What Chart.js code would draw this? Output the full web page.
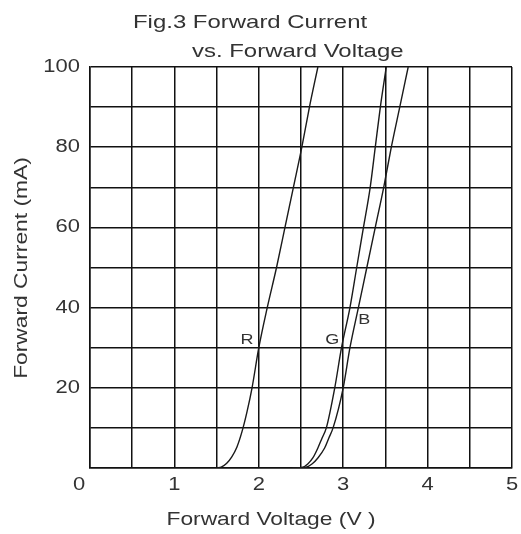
<!DOCTYPE html>
<html><head><meta charset="utf-8">
<script src="https://cdn.jsdelivr.net/npm/chart.js@4/dist/chart.umd.min.js"></script>
<style>html,body{margin:0;padding:0;background:#fff}#wrap{width:521px;height:534px}</style>
</head><body><div id="wrap"><canvas id="c" width="521" height="534"></canvas></div>
<script>
const titleLines = ["Fig.3 Forward Current", "vs. Forward Voltage"];
const xTitle = "Forward Voltage (V )";
const yTitle = "Forward Current (mA)";
const xTickLabels = [0, 1, 2, 3, 4, 5];
const yTickLabels = [20, 40, 60, 80, 100];

const rVoltage = [1.50,1.56,1.62,1.68,1.74,1.80,1.86,1.92,2.00,2.10,2.21,2.31,2.41,2.51,2.60,2.70];
const rCurrent = [0,0.3,1.2,2.8,5.2,9,14,20,30,40,50,60,70,80,90,100];
const gVoltage = [2.40,2.52,2.58,2.64,2.70,2.75,2.80,2.90,2.98,3.08,3.16,3.24,3.32,3.38,3.44,3.51];
const gCurrent = [0,0.2,1,2.5,5,7.5,10,20,30,40,50,60,70,80,90,100];
const bVoltage = [2.45,2.56,2.63,2.70,2.78,2.83,2.88,3.00,3.08,3.18,3.28,3.38,3.48,3.57,3.67,3.77];
const bCurrent = [0,0.2,1,2.5,5,7.5,10,20,30,40,50,60,70,80,90,100];
const curveLabels = [{t:"R", x:1.86, y:32}, {t:"G", x:2.87, y:32}, {t:"B", x:3.25, y:37}];

const pts = (xs, ys) => xs.map((x,i)=>({x, y: ys[i]}));
const mkSet = (name, xs, ys) => ({label:name, data: pts(xs, ys), showLine:true, borderColor:'#1a1a1a', borderWidth:1.4,
  pointRadius:0, cubicInterpolationMode:'monotone', fill:false});

const font = "'Liberation Sans', Arial, sans-serif";
function txt(ctx, s, x, y, align, size, sx, baseline){
  ctx.save();
  ctx.translate(x, y);
  ctx.scale(sx, 1);
  ctx.font = size + "px " + font;
  ctx.textAlign = align;
  ctx.textBaseline = baseline || 'alphabetic';
  ctx.fillText(s, 0, 0);
  ctx.restore();
}
const textPlugin = {
  id:'texts',
  afterDraw(chart){
    const ctx = chart.ctx, xs = chart.scales.x, ys = chart.scales.y;
    ctx.save();
    ctx.fillStyle = '#333';
    txt(ctx, titleLines[0], 133, 28, 'left', 19, 1.26);
    txt(ctx, titleLines[1], 192, 57, 'left', 19, 1.26);
    txt(ctx, xTitle, 271, 525, 'center', 19, 1.2);
    ctx.save();
    ctx.translate(27, 268);
    ctx.rotate(-Math.PI/2);
    txt(ctx, yTitle, 0, 0, 'center', 19, 1.2);
    ctx.restore();
    // tick labels taken from the library's own scales
    xs.ticks.forEach((t, i) => {
      if (xTickLabels.includes(t.value)) {
        const px = xs.getPixelForTick(i) - (t.value === 0 ? 11 : 0);
        txt(ctx, String(t.value), px, 485, 'center', 18, 1.22, 'middle');
      }
    });
    ys.ticks.forEach((t, i) => {
      if (yTickLabels.includes(t.value)) txt(ctx, String(t.value), 80, ys.getPixelForTick(i), 'right', 18, 1.22, 'middle');
    });
    curveLabels.forEach(l => txt(ctx, l.t, xs.getPixelForValue(l.x), ys.getPixelForValue(l.y), 'center', 15, 1.2, 'middle'));
    ctx.restore();
  }
};

new Chart(document.getElementById('c'), {
  type:'scatter',
  data:{datasets:[mkSet('R', rVoltage, rCurrent), mkSet('G', gVoltage, gCurrent), mkSet('B', bVoltage, bCurrent)]},
  options:{
    responsive:false, animation:false,
    layout:{padding:{left:0, top:67, right:9, bottom:0}},
    plugins:{legend:{display:false}, tooltip:{enabled:false}},
    scales:{
      x:{type:'linear', min:0, max:5,
        afterFit(s){ s.height = 66; },
        grid:{color:'#111', lineWidth:1.5, drawTicks:false},
        border:{color:'#111', width:1.5},
        ticks:{display:false, stepSize:0.5}
      },
      y:{type:'linear', min:0, max:100,
        afterFit(s){ s.width = 90; },
        grid:{color:'#111', lineWidth:1.5, drawTicks:false},
        border:{color:'#111', width:1.5},
        ticks:{display:false, stepSize:10}
      }
    }
  },
  plugins:[textPlugin]
});
</script></body></html>
